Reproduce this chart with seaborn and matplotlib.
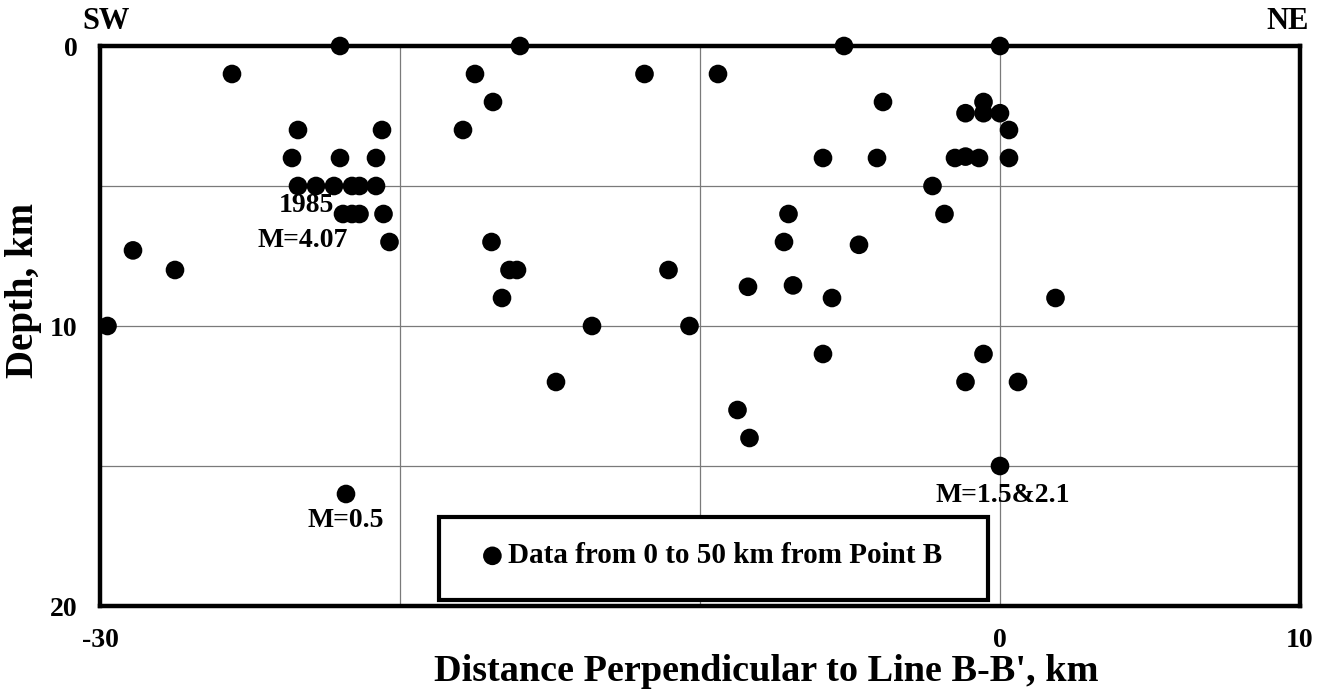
import numpy as np
import pandas as pd
import matplotlib
matplotlib.use("Agg")
import matplotlib.pyplot as plt
from matplotlib.patches import Rectangle
import seaborn as sns

# distance perpendicular to line B-B' (km) and depth (km)
dist = [-29.75, -28.9, -27.5, -25.6, -22.0, -23.4, -20.6, -23.6, -22.0, -20.8,
        -23.4, -22.8, -22.2, -21.6, -21.35, -20.8,
        -21.9, -21.6, -21.35, -20.55, -20.35, -21.8,
        -16.0, -17.5, -11.85, -16.9, -17.9, -16.95, -16.35, -16.1, -11.05,
        -16.6, -13.6, -10.35, -14.8,
        -5.2, 0.0, -9.4, -3.9, -0.55, -1.15, -0.55, 0.0, 0.3,
        -5.9, -4.1, -1.5, -1.15, -0.7, 0.3, -2.25, -7.05, -1.85,
        -7.2, -4.7, -8.4, -6.9, -5.6, 1.85, -5.9, -0.55,
        -1.15, 0.6, -8.75, -8.35, 0.0]
depth = [10.0, 7.3, 8.0, 1.0, 0.0, 3.0, 3.0, 4.0, 4.0, 4.0,
         5.0, 5.0, 5.0, 5.0, 5.0, 5.0,
         6.0, 6.0, 6.0, 6.0, 7.0, 16.0,
         0.0, 1.0, 1.0, 2.0, 3.0, 7.0, 8.0, 8.0, 8.0,
         9.0, 10.0, 10.0, 12.0,
         0.0, 0.0, 1.0, 2.0, 2.0, 2.4, 2.4, 2.4, 3.0,
         4.0, 4.0, 4.0, 3.95, 4.0, 4.0, 5.0, 6.0, 6.0,
         7.0, 7.1, 8.6, 8.55, 9.0, 9.0, 11.0, 11.0,
         12.0, 12.0, 13.0, 14.0, 15.0]

xticks = [-30, -20, -10, 0, 10]
xticklabels = ["-30", "", "", "0", "10"]
yticks = [0, 5, 10, 15, 20]
yticklabels = ["0", "", "10", "", "20"]

# magnitude notes: (text, x, depth, ha)
notes = [("1985", -22.2, 5.7, "right"),
         ("M=4.07", -21.73, 6.93, "right"),
         ("M=0.5", -21.8, 16.93, "center"),
         ("M=1.5&2.1", 0.1, 16.06, "center")]

df = pd.DataFrame({"dist": dist, "depth": depth})

sns.set_style("white")
plt.rcParams['font.family'] = ['Liberation Serif', 'DejaVu Serif']
plt.rcParams['font.weight'] = 'bold'
for key in ['text.color', 'axes.labelcolor', 'xtick.color', 'ytick.color']:
    plt.rcParams[key] = 'black'

fig = plt.figure(figsize=(13.23, 6.92), dpi=100)
ax = fig.add_axes([100 / 1323, 86 / 692, 1200 / 1323, 560 / 692])

sns.scatterplot(data=df, x="dist", y="depth", color="black", s=180,
                edgecolor="none", clip_on=False, zorder=5, ax=ax,
                label="Data from 0 to 50 km from Point B")

ax.set_xlim(-30, 10)
ax.set_ylim(20, 0)
ax.set_xticks(xticks)
ax.set_xticklabels(xticklabels)
ax.set_yticks(yticks)
ax.set_yticklabels(yticklabels)
ax.tick_params(length=0, labelsize=20)
ax.tick_params(axis="y", pad=16)
ax.tick_params(axis="x", pad=16)
ax.grid(True, color="#7a7a7a", linewidth=0.9)
ax.set_axisbelow(True)
for sp in ax.spines.values():
    sp.set_linewidth(3.2)
    sp.set_color("black")

ax.set_xlabel("Distance Perpendicular to Line B-B', km", fontsize=27.5, fontweight="bold")
ax.set_ylabel("Depth, km", fontsize=28, fontweight="bold")
ax.xaxis.set_label_coords(0.555, -0.085)
ax.yaxis.set_label_coords(-0.048, 0.564)

for txt, x, y, ha in notes:
    ax.text(x, y, txt, ha=ha, va="center", fontsize=20, fontweight="bold")

ax.text(0.005, 1.043, "SW", transform=ax.transAxes, ha="center", va="center",
        fontsize=22, fontweight="bold")
ax.text(0.99, 1.043, "NE", transform=ax.transAxes, ha="center", va="center",
        fontsize=22, fontweight="bold")

# legend box
ax.add_patch(Rectangle((0.2825, 0.0107), 0.4575, 0.148, transform=ax.transAxes,
                       facecolor="white", edgecolor="black", linewidth=3,
                       zorder=3))
leg = ax.legend(loc="center left", bbox_to_anchor=(0.3197, 0.0893),
                frameon=False, borderpad=0, borderaxespad=0, handlelength=0.6,
                handletextpad=0.22, fontsize=21, markerscale=1.0)
leg.set_zorder(6)

fig.savefig("out.png", dpi=100)
